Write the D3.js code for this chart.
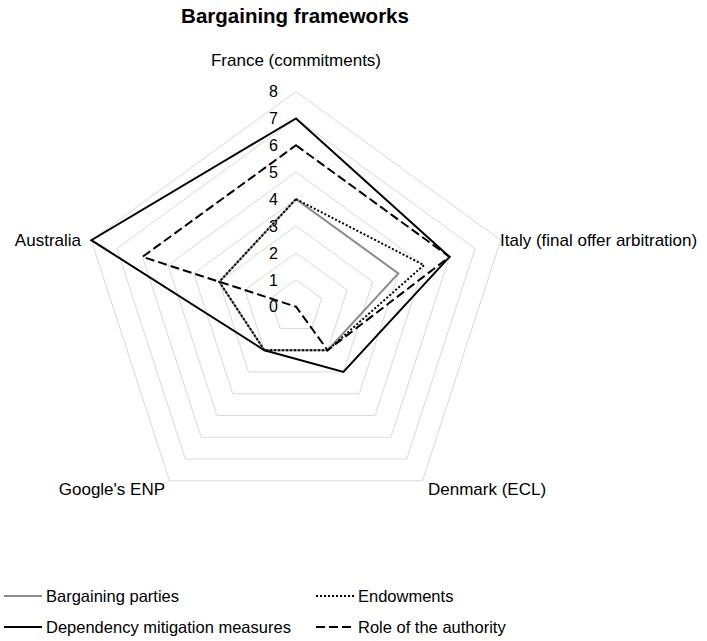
<!DOCTYPE html>
<html>
<head>
<meta charset="utf-8">
<script src="https://cdn.jsdelivr.net/npm/d3@7"></script>
<style>
  body { margin: 0; background: #fff; }
  text { font-family: "Liberation Sans", Arial, sans-serif; fill: #000; }
</style>
</head>
<body>
<svg id="svg"></svg>
<script>
////////////////////////////////////////////////////////////////////////
// Data

let categories = ["France (commitments)", "Italy (final offer arbitration)",
                  "Denmark (ECL)", "Google's ENP", "Australia"];
let seriesNames = ["Bargaining parties", "Endowments",
                   "Dependency mitigation measures", "Role of the authority"];
let bargaining = [4, 4, 2, 2, 3];
let endowments = [4, 5, 2, 2, 3];
let dependency = [7, 6, 3, 2, 8];
let authority  = [6, 6, 2, 0, 6];
let tickValues = [0, 1, 2, 3, 4, 5, 6, 7, 8];

////////////////////////////////////////////////////////////////////////
// Layout

let width = 707, height = 641;
let cx = 296, cy = 306.7;

let svg = d3.select("#svg").attr("width", width).attr("height", height);

let r = d3.scaleLinear().domain([0, 8]).range([0, 215.2]);
let angle = d3.scaleLinear().domain([0, categories.length])
              .range([-Math.PI / 2, 1.5 * Math.PI]);

function pt(i, v) {
  return [cx + r(v) * Math.cos(angle(i)), cy + r(v) * Math.sin(angle(i))];
}

// grid rings
let rings = tickValues.filter(function(t) { return t > 0; });
svg.append("g").selectAll("path")
   .data(rings)
   .enter().append("path")
   .attr("d", function(t) {
     return d3.line()(categories.map(function(c, i) { return pt(i, t); })) + "Z";
   })
   .attr("fill", "none")
   .attr("stroke", "#d9d9d9")
   .attr("stroke-width", 1);

// tick labels
svg.append("g").selectAll("text")
   .data(tickValues)
   .enter().append("text")
   .attr("x", cx - 18)
   .attr("y", function(t) { return cy - r(t); })
   .attr("dy", "0.36em")
   .attr("text-anchor", "end")
   .style("font-size", "16px")
   .text(function(t) { return t; });

// series
let series = [
  { name: seriesNames[0], values: bargaining, color: "#8c8c8c", dash: null },
  { name: seriesNames[1], values: endowments, color: "#000", dash: "2,2" },
  { name: seriesNames[2], values: dependency, color: "#000", dash: null },
  { name: seriesNames[3], values: authority,  color: "#000", dash: "9,4" }
];

svg.append("g").selectAll("path")
   .data(series)
   .enter().append("path")
   .attr("d", function(s) {
     return d3.line()(s.values.map(function(v, i) { return pt(i, v); })) + "Z";
   })
   .attr("fill", "none")
   .attr("stroke", function(s) { return s.color; })
   .attr("stroke-width", 2)
   .attr("stroke-dasharray", function(s) { return s.dash; })
   .attr("stroke-linejoin", "miter");

// category labels
let catPos = [
  { x: 296, y: 60, anchor: "middle" },
  { x: 500, y: 240, anchor: "start" },
  { x: 428, y: 489, anchor: "start" },
  { x: 165, y: 489, anchor: "end" },
  { x: 81, y: 240, anchor: "end" }
];
svg.append("g").selectAll("text")
   .data(categories)
   .enter().append("text")
   .attr("x", function(c, i) { return catPos[i].x; })
   .attr("y", function(c, i) { return catPos[i].y; })
   .attr("dy", "0.36em")
   .attr("text-anchor", function(c, i) { return catPos[i].anchor; })
   .style("font-size", "17px")
   .text(function(c) { return c; });

// title
svg.append("text")
   .attr("x", 295).attr("y", 16).attr("dy", "0.36em")
   .attr("text-anchor", "middle")
   .style("font-size", "20.5px").style("font-weight", "bold")
   .text("Bargaining frameworks");

// legend
let legPos = [[4, 596], [316, 596], [4, 627], [316, 627]];
let leg = svg.append("g").selectAll("g")
   .data(series)
   .enter().append("g")
   .attr("transform", function(s, i) {
     return "translate(" + legPos[i][0] + "," + legPos[i][1] + ")";
   });
leg.append("line")
   .attr("x1", 0).attr("x2", 38)
   .attr("stroke", function(s) { return s.color; })
   .attr("stroke-width", 2)
   .attr("stroke-dasharray", function(s) { return s.dash; });
leg.append("text")
   .attr("x", 42).attr("dy", "0.36em")
   .style("font-size", "16.5px")
   .text(function(s) { return s.name; });
</script>
</body>
</html>
